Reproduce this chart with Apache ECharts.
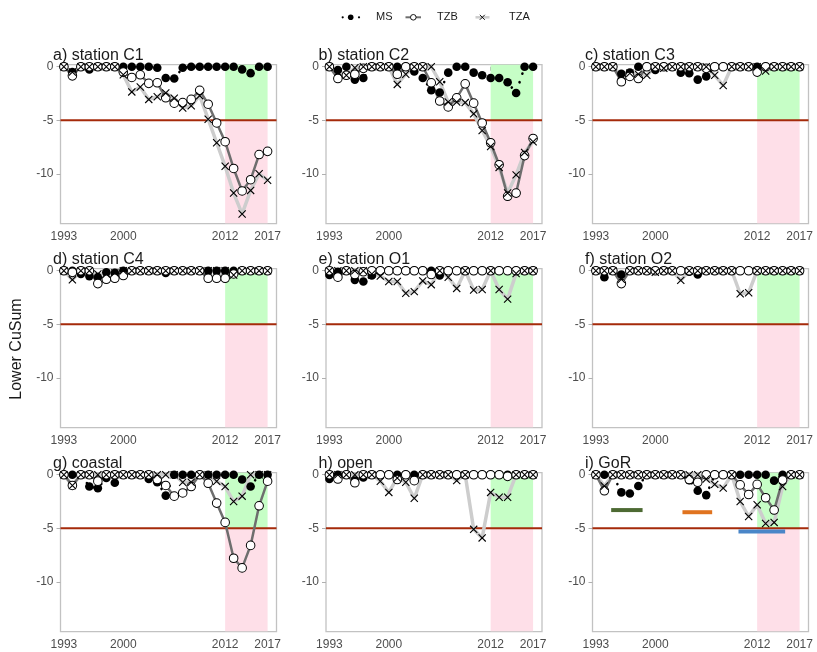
<!DOCTYPE html>
<html>
<head>
<meta charset="utf-8">
<script src="https://cdn.jsdelivr.net/npm/echarts@6/dist/echarts.min.js"></script>
<style>
  html, body { margin: 0; padding: 0; background: #ffffff; }
  #chart { width: 817px; height: 652px; }
</style>
</head>
<body>
<div id="chart"></div>
<script>
// ---- data -------------------------------------------------------------
const years = [1993, 1994, 1995, 1996, 1997, 1998, 1999, 2000, 2001, 2002, 2003, 2004, 2005,
               2006, 2007, 2008, 2009, 2010, 2011, 2012, 2013, 2014, 2015, 2016, 2017];
const xTickLabels = [1993, 2000, 2012, 2017];
const yTickLabels = [0, -5, -10];
const panelTitles = ['a) station C1', 'b) station C2', 'c) station C3',
                     'd) station C4', 'e) station O1', 'f) station O2',
                     'g) coastal', 'h) open', 'i) GoR'];
const seriesNames = ['MS', 'TZB', 'TZA'];
const threshold = -5;
const assessmentPeriod = [2012, 2017];

const c1MS  = [0, -0.5, 0, -0.25, 0, 0, 0, 0, 0, 0, 0, -0.1, -1.05, -1.1, -0.1, 0, 0, 0, 0, 0, 0, -0.25, -0.6, 0, 0];
const c1TZB = [0, -0.85, 0, 0, 0, 0, 0, -0.5, -1.0, -0.75, -1.55, -1.5, -2.9, -3.4, -3.35, -3.05, -2.2, -3.5, -5.25, -7.0, -9.5, -11.6, -10.55, -8.2, -7.9];
const c1TZA = [0, -0.5, 0, 0, 0, 0, 0, -0.75, -2.35, -1.9, -3.05, -2.8, -2.45, -2.95, -3.85, -3.65, -2.7, -4.9, -7.1, -9.3, -11.8, -13.75, -11.55, -10.0, -10.6];

const c2MS  = [0, -0.3, 0, -1.2, -1.05, 0, 0, 0, 0, 0, -0.45, -1.05, -2.2, -2.4, -0.55, 0, 0, -0.55, -0.8, -1.05, -1.05, -1.45, -2.45, 0, 0];
const c2TZB = [0, -1.1, -0.8, -0.7, -0.15, 0, 0, 0, -0.7, 0, 0, 0, -1.5, -3.2, -3.75, -2.9, -1.6, -3.4, -5.25, -7.1, -9.15, -12.1, -11.8, -8.3, -6.7];
const c2TZA = [0, -0.5, -0.8, -0.1, 0, 0, 0, 0, -1.65, -0.7, 0, 0, 0, -1.4, -3.3, -3.3, -3.35, -4.4, -5.95, -7.45, -9.4, -11.8, -10.1, -8.0, -7.0];

const c3MS  = [0, 0, 0, -0.65, -0.55, 0, 0, -0.3, 0, 0, -0.55, -0.6, -1.2, -0.9, 0, 0, 0, 0, 0, 0, 0, 0, 0, 0, 0];
const c3TZB = [0, 0, 0, -1.4, -0.9, -1.1, 0, 0, 0, 0, 0, 0, 0, -0.15, 0, 0, 0, 0, 0, -0.5, 0, 0, 0, 0, 0];
const c3TZA = [0, 0, 0, -0.8, -0.6, -0.7, -0.8, 0, -0.15, 0, 0, 0, 0, 0, -0.8, -1.75, 0, 0, 0, 0, -0.4, 0, 0, 0, 0];

const c4MS  = [0, 0, -0.3, -0.5, -0.6, -0.15, -0.2, 0, 0, 0, 0, 0, -0.2, 0, 0, 0, 0, 0, 0, 0, 0, 0, 0, 0, 0];
const c4TZB = [0, -0.15, 0, 0, -1.2, -0.8, -0.7, -0.45, 0, 0, 0, 0, 0, 0, 0, 0, 0, -0.7, -0.7, -0.7, -0.3, 0, 0, 0, 0];
const c4TZA = [0, -0.85, 0, 0, -0.3, -0.3, -0.2, 0, 0, 0, 0, 0, 0, 0, 0, 0, 0, 0, 0, 0, -0.4, 0, 0, 0, 0];

const o1MS  = [-0.4, -0.1, 0, -0.85, -1.0, -0.45, 0, 0, 0, 0, 0, 0, 0, -0.45, 0, 0, 0, 0, 0, 0, 0, 0, 0, 0, 0];
const o1TZB = [0, -0.6, 0, -0.35, -0.1, 0, 0, 0, 0, 0, 0, 0, -0.35, 0, 0, 0, 0, 0, 0, 0, 0, 0, 0, 0, 0];
const o1TZA = [0, 0, 0, 0, 0, -0.3, -0.5, -1.0, -1.0, -2.1, -1.95, -0.95, -1.3, 0, -0.6, -1.65, 0, -1.8, -1.75, 0, -1.75, -2.65, -0.25, 0, 0];

const o2MS  = [0, -0.6, 0, -0.35, 0, 0, 0, 0, 0, 0, 0, -0.1, -0.35, 0, 0, 0, 0, 0, 0, 0, 0, 0, 0, 0, 0];
const o2TZB = [0, 0, 0, -1.2, 0, 0, 0, 0, 0, 0, 0, 0, 0, 0, 0, 0, 0, 0, 0, 0, 0, 0, 0, 0, 0];
const o2TZA = [0, 0, 0, -0.8, 0, 0, 0, -0.15, 0, 0, -0.9, 0, 0, 0, 0, 0, 0, -2.15, -2.05, 0, 0, 0, 0, 0, 0];

const coastalMS  = [0, 0, 0, -1.1, -1.25, -0.3, -0.75, 0, 0, 0, -0.4, -0.7, -1.95, 0, 0, 0, 0, 0, 0, 0, 0, -0.45, -1.1, 0, 0];
const coastalTZB = [0, -1.0, 0, 0, -0.6, 0, 0, 0, 0, 0, 0, -0.45, -1.0, -2.0, -1.7, -1.1, 0, -0.8, -2.65, -4.45, -7.8, -8.7, -6.6, -2.9, -0.6];
const coastalTZA = [0, -1.0, 0, 0, 0, 0, 0, 0, 0, 0, 0, 0, 0, 0, -0.7, -0.7, 0, 0, -0.6, -1.1, -2.5, -2.0, 0, 0, 0];

const openMS  = [-0.4, 0, 0, -0.55, -0.25, 0, 0, 0, 0, 0, 0, 0, 0, 0, 0, 0, 0, 0, 0, 0, 0, 0, 0, 0, 0];
const openTZB = [0, -0.4, 0, -0.75, 0, 0, 0, 0, -0.45, 0, -0.55, 0, 0, 0, 0, 0, 0, 0, 0, 0, 0, -0.15, 0, 0, 0];
const openTZA = [0, 0, 0, 0, 0, 0, -0.6, -1.65, -0.3, -0.7, -2.2, 0, 0, 0, 0, -0.55, 0, -5.1, -5.9, -1.65, -2.1, -2.1, 0, 0, 0];

const gorMS  = [0, 0, 0, -1.65, -1.75, -1.05, 0, 0, 0, 0, 0, -0.5, -1.5, -1.9, 0, 0, 0, 0, 0, 0, 0, -0.55, 0, 0, 0];
const gorTZB = [0, -1.5, 0, 0, 0, 0, 0, 0, 0, 0, 0, -0.45, -0.7, 0, 0, 0, 0, -0.95, -1.85, -0.9, -2.15, -3.3, -0.5, 0, 0];
const gorTZA = [0, -1.05, 0, 0, 0, 0, 0, 0, 0, 0, 0, 0, 0, -0.4, -0.9, -1.25, 0, -2.5, -3.9, -2.8, -4.55, -4.45, -1.1, 0, 0];

// periods marked in the GoR panel: start year, end year, level
const gorPeriodStart = [1994.8, 2003.2, 2009.8];
const gorPeriodEnd   = [1998.5, 2006.7, 2015.3];
const gorPeriodLevel = [-3.3, -3.5, -5.3];

// ---- layout & style ---------------------------------------------------
const X_MIN = 1992.6, X_MAX = 2018.05;
const Y_MIN = -14.65, Y_MAX = 0.2;
const COL_LEFT = [60.5, 326, 592.5];
const ROW_TOP = [64.6, 268.6, 472.6];
const PANEL_W = 216, PANEL_H = 159;
const FONT = '"Liberation Sans", Arial, sans-serif';

const GREEN = '#c6fec6';
const PINK = '#fedfe8';
const RED = '#a52a0a';
const BORDER = '#c2c2c2';
const TZB_LINE = '#6e6e6e';
const TZA_LINE = '#cdcdcd';
const PERIOD_COLORS = ['#4d6a33', '#e0731f', '#4a86c8'];
const CROSS = 'path://M0,0L10,10M10,0L0,10';

const panelData = [
  [c1MS, c1TZB, c1TZA], [c2MS, c2TZB, c2TZA], [c3MS, c3TZB, c3TZA],
  [c4MS, c4TZB, c4TZA], [o1MS, o1TZB, o1TZA], [o2MS, o2TZB, o2TZA],
  [coastalMS, coastalTZB, coastalTZA], [openMS, openTZB, openTZA], [gorMS, gorTZB, gorTZA]
];

const pairs = vals => years.map((y, i) => [y, vals[i]]);

const grids = [], xAxes = [], yAxes = [], series = [], graphics = [];

panelData.forEach((sets, p) => {
  const col = p % 3, row = Math.floor(p / 3);
  const left = COL_LEFT[col], top = ROW_TOP[row];
  grids.push({
    left: left, top: top, width: PANEL_W, height: PANEL_H,
    show: true, backgroundColor: 'transparent', borderColor: BORDER, borderWidth: 1.3,
    containLabel: false
  });
  xAxes.push({
    type: 'value', gridIndex: p, min: X_MIN, max: X_MAX,
    axisLine: { show: false },
    splitLine: { show: false },
    axisTick: { show: true, length: 4, lineStyle: { color: '#b0b0b0', width: 1 }, customValues: xTickLabels },
    axisLabel: { color: '#4d4d4d', fontSize: 12, fontFamily: FONT, margin: 7, customValues: xTickLabels,
                 formatter: v => String(v) }
  });
  yAxes.push({
    type: 'value', gridIndex: p, min: Y_MIN, max: Y_MAX,
    axisLine: { show: false },
    splitLine: { show: false },
    axisTick: { show: true, length: 4, lineStyle: { color: '#b0b0b0', width: 1 }, customValues: yTickLabels },
    axisLabel: { color: '#4d4d4d', fontSize: 12, fontFamily: FONT, margin: 7, customValues: yTickLabels,
                 formatter: v => String(v) }
  });

  // assessment-period shading and the -5 threshold line
  series.push({
    type: 'custom', xAxisIndex: p, yAxisIndex: p, z: 1, silent: true, clip: true,
    data: [[assessmentPeriod[0], assessmentPeriod[1], threshold]],
    encode: { x: [0, 1], y: 2 },
    renderItem: (params, api) => {
      const x0 = api.value(0), x1 = api.value(1), t = api.value(2);
      const a = api.coord([x0, Y_MAX]);
      const b = api.coord([x1, t]);
      const c = api.coord([x1, Y_MIN]);
      const cs = params.coordSys;
      return {
        type: 'group',
        children: [
          { type: 'rect', shape: { x: a[0], y: a[1], width: b[0] - a[0], height: b[1] - a[1] }, style: { fill: GREEN } },
          { type: 'rect', shape: { x: a[0], y: b[1], width: b[0] - a[0], height: c[1] - b[1] }, style: { fill: PINK } },
          { type: 'line', shape: { x1: cs.x, y1: b[1], x2: cs.x + cs.width, y2: b[1] }, style: { stroke: RED, lineWidth: 2 } }
        ]
      };
    }
  });

  const [ms, tzb, tza] = sets;
  // connecting lines
  series.push({
    name: 'TZA', type: 'line', xAxisIndex: p, yAxisIndex: p, z: 2, silent: true,
    data: pairs(tza), showSymbol: false, symbol: 'none',
    lineStyle: { color: TZA_LINE, width: 3.5 }
  });
  series.push({
    name: 'TZB', type: 'line', xAxisIndex: p, yAxisIndex: p, z: 2, silent: true,
    data: pairs(tzb), showSymbol: false, symbol: 'none',
    lineStyle: { color: TZB_LINE, width: 2.5 }
  });
  series.push({
    name: 'MS', type: 'line', xAxisIndex: p, yAxisIndex: p, z: 2, silent: true,
    data: pairs(ms), showSymbol: false, symbol: 'none',
    lineStyle: { color: '#000000', width: 2.6, type: [0.1, 9], cap: 'round' }
  });
  // point markers
  series.push({
    name: 'MS', type: 'scatter', xAxisIndex: p, yAxisIndex: p, z: 3, silent: true,
    data: pairs(ms), symbol: 'circle', symbolSize: 8.6,
    itemStyle: { color: '#000000', opacity: 1 }
  });
  series.push({
    name: 'TZB', type: 'scatter', xAxisIndex: p, yAxisIndex: p, z: 4, silent: true,
    data: pairs(tzb), symbol: 'circle', symbolSize: 8.6,
    itemStyle: { color: '#ffffff', borderColor: '#000000', borderWidth: 1, opacity: 1 }
  });
  series.push({
    name: 'TZA', type: 'scatter', xAxisIndex: p, yAxisIndex: p, z: 5, silent: true,
    data: pairs(tza), symbol: CROSS, symbolSize: 7.2,
    itemStyle: { color: 'rgba(0,0,0,0)', borderColor: '#000000', borderWidth: 1.1, opacity: 1 }
  });

  // panel heading
  graphics.push({
    type: 'text', left: left - 7.5, top: top - 17.5, z: 10,
    style: { text: panelTitles[p], fill: '#1a1a1a', font: '16px ' + FONT }
  });
});

// horizontal period bars in the GoR panel
series.push({
  type: 'custom', xAxisIndex: 8, yAxisIndex: 8, z: 6, silent: true,
  data: gorPeriodStart.map((s, i) => [s, gorPeriodEnd[i], gorPeriodLevel[i]]),
  encode: { x: [0, 1], y: 2 },
  renderItem: (params, api) => {
    const a = api.coord([api.value(0), api.value(2)]);
    const b = api.coord([api.value(1), api.value(2)]);
    return {
      type: 'line',
      shape: { x1: a[0], y1: a[1], x2: b[0], y2: b[1] },
      style: { stroke: PERIOD_COLORS[params.dataIndex], lineWidth: 4 }
    };
  }
});

// shared y-axis title
graphics.push({
  type: 'text', x: 17, y: 349, rotation: Math.PI / 2, z: 10,
  style: { text: 'Lower CuSum', fill: '#1a1a1a', font: '16px ' + FONT, align: 'center', verticalAlign: 'middle' }
});

// legend row
const LY = 17.3;
const LEGEND_FONT = '11px ' + FONT;
graphics.push(
  { type: 'circle', shape: { cx: 342.7, cy: LY, r: 1.1 }, style: { fill: '#000' } },
  { type: 'circle', shape: { cx: 350.7, cy: LY, r: 2.8 }, style: { fill: '#000' } },
  { type: 'circle', shape: { cx: 359, cy: LY, r: 1.1 }, style: { fill: '#000' } },
  { type: 'text', x: 376, y: LY, style: { text: seriesNames[0], fill: '#1a1a1a', font: LEGEND_FONT, verticalAlign: 'middle' } },
  { type: 'line', shape: { x1: 405.5, y1: LY, x2: 421, y2: LY }, style: { stroke: TZB_LINE, lineWidth: 2 } },
  { type: 'circle', shape: { cx: 413.3, cy: LY, r: 2.8 }, style: { fill: '#fff', stroke: '#000', lineWidth: 0.9 } },
  { type: 'text', x: 437, y: LY, style: { text: seriesNames[1], fill: '#1a1a1a', font: LEGEND_FONT, verticalAlign: 'middle' } },
  { type: 'line', shape: { x1: 475.5, y1: LY, x2: 489.5, y2: LY }, style: { stroke: TZA_LINE, lineWidth: 2.5 } },
  { type: 'line', shape: { x1: 479.8, y1: LY - 2.5, x2: 484.8, y2: LY + 2.5 }, style: { stroke: '#000', lineWidth: 0.9 } },
  { type: 'line', shape: { x1: 479.8, y1: LY + 2.5, x2: 484.8, y2: LY - 2.5 }, style: { stroke: '#000', lineWidth: 0.9 } },
  { type: 'text', x: 509, y: LY, style: { text: seriesNames[2], fill: '#1a1a1a', font: LEGEND_FONT, verticalAlign: 'middle' } }
);

const chart = echarts.init(document.getElementById('chart'), null, { renderer: 'canvas' });
chart.setOption({
  backgroundColor: '#ffffff',
  animation: false,
  grid: grids,
  xAxis: xAxes,
  yAxis: yAxes,
  series: series,
  graphic: graphics
});
</script>
</body>
</html>
